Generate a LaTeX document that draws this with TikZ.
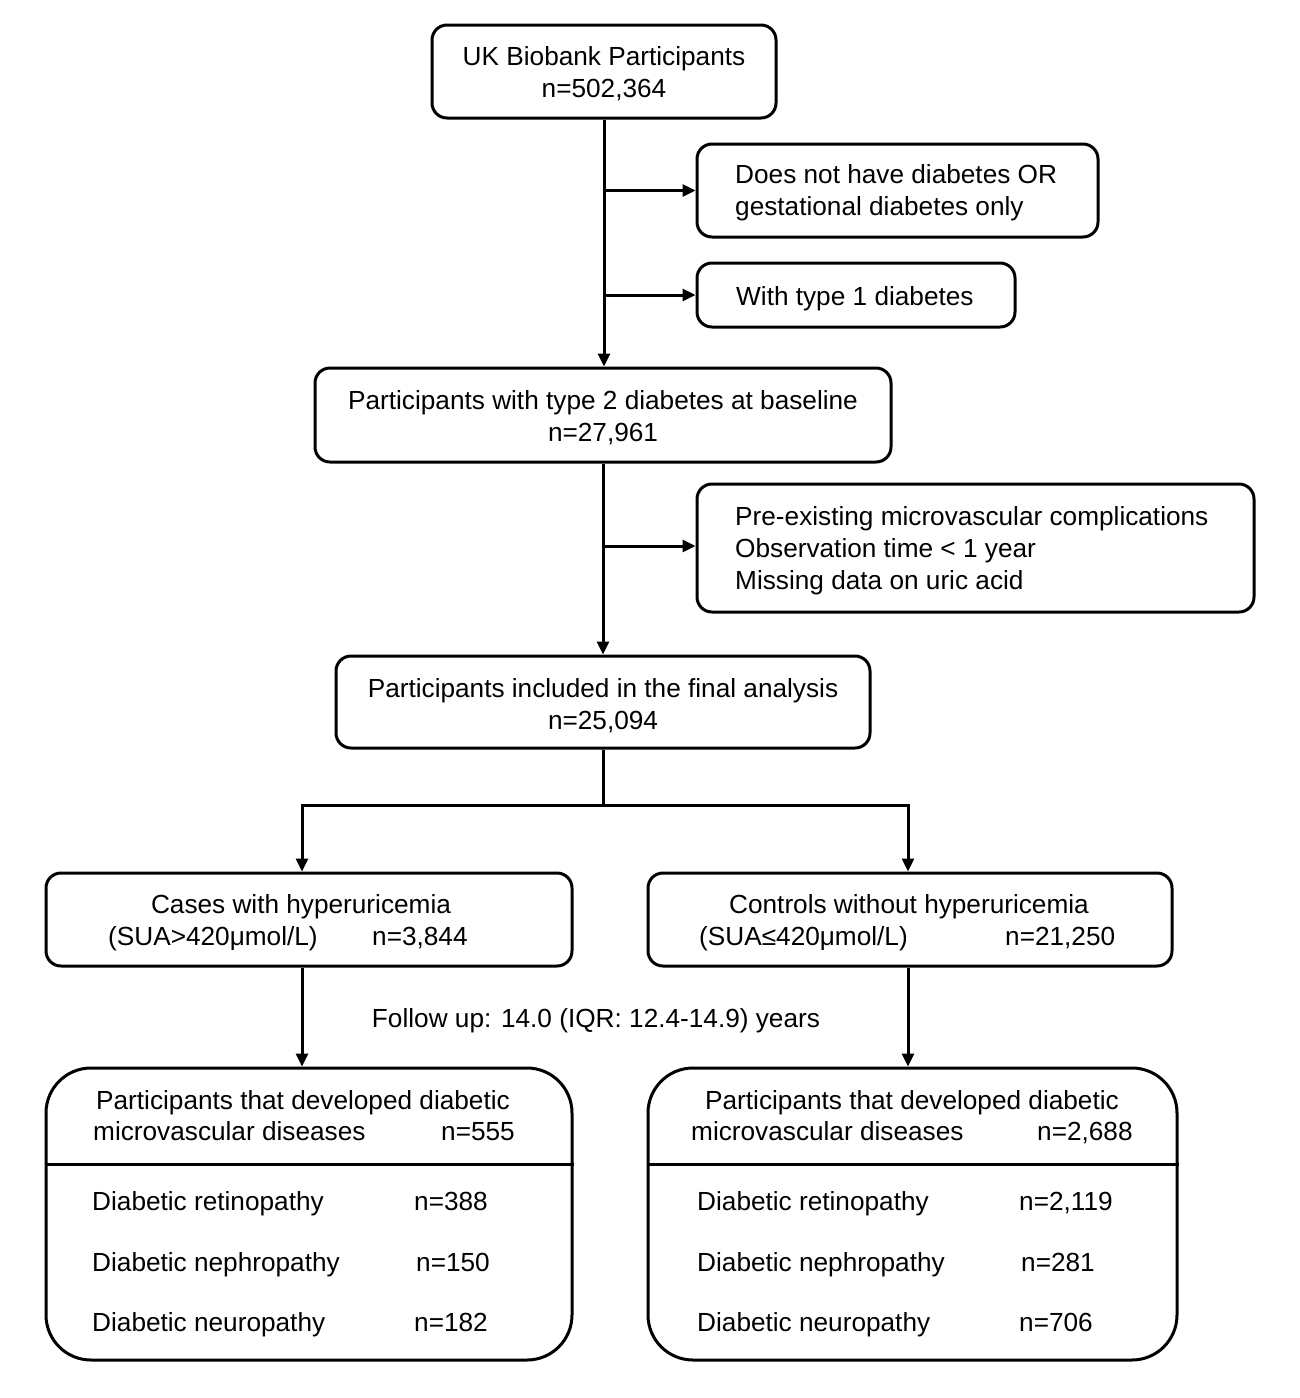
\documentclass[tikz,border=0pt]{standalone}
\usepackage{fontspec}
\setmainfont{Liberation Sans}
\usetikzlibrary{arrows.meta}
\begin{document}
\begin{tikzpicture}[x=1pt,y=-1pt,
  box/.style={draw, line width=3pt, rounded corners=15pt, inner sep=0pt},
  bigbox/.style={box, rounded corners=45pt},
  txt/.style={inner sep=0pt, anchor=base west, font=\fontsize{26.2}{32}\selectfont},
  ctxt/.style={txt, anchor=base},
  mtxt/.style={txt, anchor=center, align=center},
  ltxt/.style={txt, anchor=west, align=left},
  arr/.style={line width=3pt, -{Triangle[length=13pt,width=12pt]}},
  ln/.style={line width=3pt}]
\useasboundingbox (0,0) rectangle (1300,1398);
% boxes
\node[box, minimum width=344pt, minimum height=93pt] (top) at (604,71.5) {};
\node[mtxt] (topt) at (604,74) {UK Biobank Participants\\n=502,364};
\node[box, minimum width=401pt, minimum height=93pt] (ex1) at (897.5,190.5) {};
\node[ltxt] (ex1t) at (735,193) {Does not have diabetes OR\\gestational diabetes only};
\node[box, minimum width=318pt, minimum height=64pt] (ex2) at (856,295) {};
\node[txt] (ex2t) at (736,305) {With type 1 diabetes};
\node[box, minimum width=576pt, minimum height=94pt] (t2d) at (603,415) {};
\node[mtxt] (t2dt) at (603,418) {Participants with type 2 diabetes at baseline\\n=27,961};
\node[box, minimum width=557pt, minimum height=128pt] (ex3) at (975.5,548) {};
\node[ltxt] (ex3t) at (735,551) {Pre-existing microvascular complications\\Observation time < 1 year\\Missing data on uric acid};
\node[box, minimum width=534pt, minimum height=92pt] (final) at (603,702) {};
\node[mtxt] (finalt) at (603,706) {Participants included in the final analysis\\n=25,094};
% groups
\node[box, minimum width=526pt, minimum height=93pt] (cases) at (309,919.5) {};
\node[ctxt] (casesa) at (301,913) {Cases with hyperuricemia};
\node[txt] (casesb) at (108,945) {(SUA>420μmol/L)};
\node[txt] (casesc) at (372,945) {n=3,844};
\node[box, minimum width=524pt, minimum height=93pt] (controls) at (910,919.5) {};
\node[ctxt] (contra) at (909,913) {Controls without hyperuricemia};
\node[txt] (contrb) at (699,945) {(SUA≤420μmol/L)};
\node[txt] (contrc) at (1005,945) {n=21,250};
\node[txt, anchor=base] (fu) at (596,1027) {Follow up: 14.0 (IQR: 12.4-14.9) years};
% outcome boxes
\node[bigbox, minimum width=526pt, minimum height=292pt] (outL) at (309,1214) {};
\node[bigbox, minimum width=529pt, minimum height=292pt] (outR) at (912.5,1214) {};
\draw[ln] (outL.west |- 0,1164) -- (outL.east |- 0,1164);
\draw[ln] (outR.west |- 0,1164) -- (outR.east |- 0,1164);
\node[ctxt] (lh1) at (303,1109) {Participants that developed diabetic};
\node[txt] (lh2) at (93,1140) {microvascular diseases};
\node[txt] (lh3) at (441,1140) {n=555};
\node[txt] (l1) at (92,1210) {Diabetic retinopathy};
\node[txt] (l1n) at (414,1210) {n=388};
\node[txt] (l2) at (92,1271) {Diabetic nephropathy};
\node[txt] (l2n) at (416,1271) {n=150};
\node[txt] (l3) at (92,1331) {Diabetic neuropathy};
\node[txt] (l3n) at (414,1331) {n=182};
\node[ctxt] (rh1) at (912,1109) {Participants that developed diabetic};
\node[txt] (rh2) at (691,1140) {microvascular diseases};
\node[txt] (rh3) at (1037,1140) {n=2,688};
\node[txt] (r1) at (697,1210) {Diabetic retinopathy};
\node[txt] (r1n) at (1019,1210) {n=2,119};
\node[txt] (r2) at (697,1271) {Diabetic nephropathy};
\node[txt] (r2n) at (1021,1271) {n=281};
\node[txt] (r3) at (697,1331) {Diabetic neuropathy};
\node[txt] (r3n) at (1019,1331) {n=706};
% connectors
\coordinate (spL) at (302,805);
\coordinate (spR) at (908,805);
\draw[arr] (top.south) -- (top.south |- t2d.north);
\draw[arr] (top.south |- ex1.west) -- (ex1.west);
\draw[arr] (top.south |- ex2.west) -- (ex2.west);
\draw[arr] (t2d.south) -- (t2d.south |- final.north);
\draw[arr] (t2d.south |- 0,546) -- (ex3.west |- 0,546);
\draw[ln] (final.south) -- (final.south |- spL);
\draw[line width=3pt, {Triangle[length=13pt,width=12pt]}-{Triangle[length=13pt,width=12pt]}]
  (spL |- cases.north) -- (spL) -- (spR) -- (spR |- controls.north);
\draw[arr] (spL |- cases.south) -- (spL |- outL.north);
\draw[arr] (spR |- controls.south) -- (spR |- outR.north);
\end{tikzpicture}
\end{document}
